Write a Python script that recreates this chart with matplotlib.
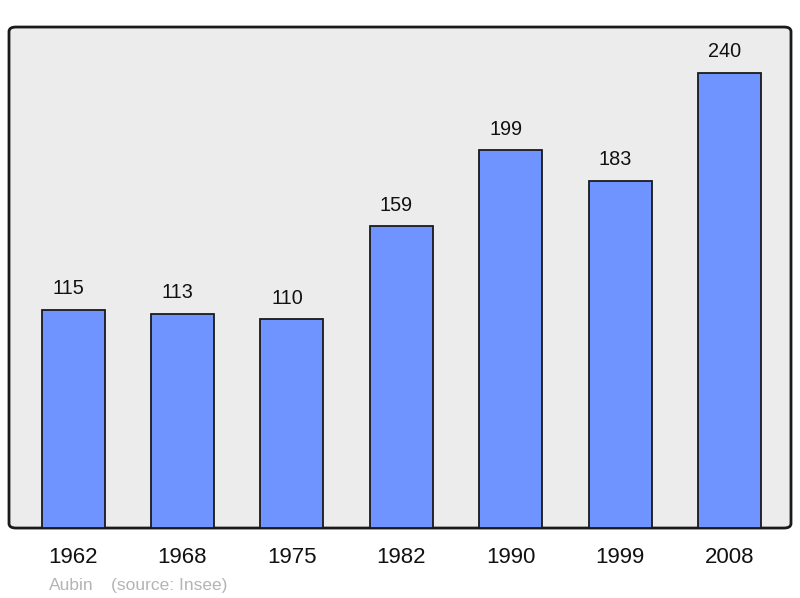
import matplotlib.pyplot as plt
from matplotlib.patches import FancyBboxPatch

years = ['1962', '1968', '1975', '1982', '1990', '1999', '2008']
population = [115, 113, 110, 159, 199, 183, 240]

plt.rcParams['font.family'] = ['Liberation Sans', 'DejaVu Sans']

fig = plt.figure(figsize=(8, 5.98), dpi=100)
ax = fig.add_axes([0.01125, 0.117, 0.9775, 0.8378])
ax.set_facecolor('none')

# rounded frame with grey fill, drawn behind the bars
frame = FancyBboxPatch((0, 0), 1, 1,
                       boxstyle='round,pad=0,rounding_size=0.009',
                       transform=ax.transAxes, facecolor='#ececec',
                       edgecolor='#1a1a1a', linewidth=2, zorder=0,
                       clip_on=False)
ax.add_patch(frame)

x = range(len(years))
ax.bar(x, population, width=0.576, color='#7094ff', edgecolor='#1a1a1a',
       linewidth=1.3, zorder=2)
for xi, v in zip(x, population):
    ax.text(xi - 0.045, v + 6, str(v), ha='center', va='bottom', fontsize=14.3,
            color='#111111')

ax.set_xlim(-0.585, 6.56)
ax.set_ylim(0, 264)
ax.set_xticks(list(x))
ax.set_xticklabels(years, fontsize=16, color='#111111')
ax.tick_params(axis='x', length=0, pad=14)
ax.set_yticks([])
for sp in ax.spines.values():
    sp.set_visible(False)

fig.text(0.061, 0.014, 'Aubin', fontsize=12.5, color='#b4b4b4')
fig.text(0.139, 0.014, '(source: Insee)', fontsize=12.5, color='#b4b4b4')

fig.savefig('out.png', dpi=100)
